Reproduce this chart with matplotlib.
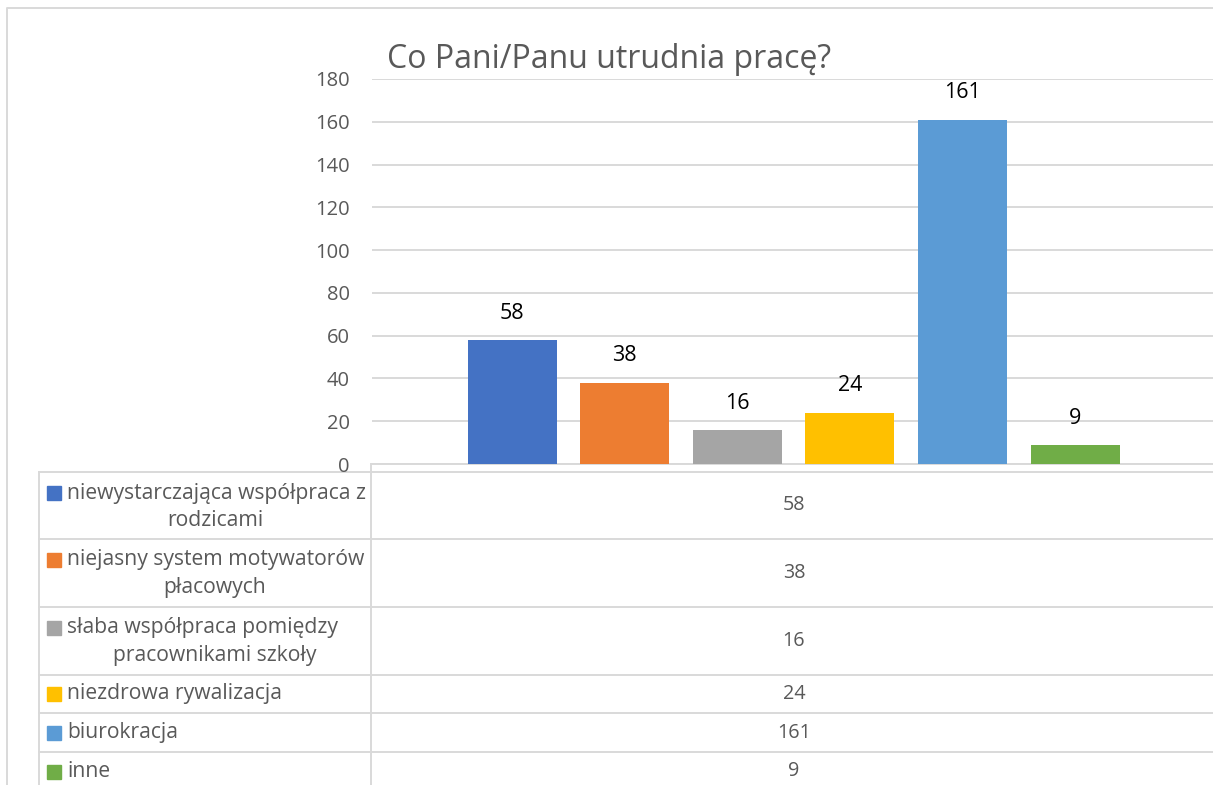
import matplotlib.pyplot as plt
from matplotlib.patches import Rectangle

# data
categories = ["niewystarczająca współpraca z\nrodzicami",
              "niejasny system motywatorów\npłacowych",
              "słaba współpraca pomiędzy\npracownikami szkoły",
              "niezdrowa rywalizacja",
              "biurokracja",
              "inne"]
values = [58, 38, 16, 24, 161, 9]
colors = ["#4472C4", "#ED7D31", "#A5A5A5", "#FFC000", "#5B9BD5", "#70AD47"]
yticks = [0, 20, 40, 60, 80, 100, 120, 140, 160, 180]
title = "Co Pani/Panu utrudnia pracę?"

W, H = 1213, 785
plt.rcParams['font.family'] = ['Open Sans', 'DejaVu Sans']
fig = plt.figure(figsize=(W / 100, H / 100), dpi=100)

def px_axes(x0, y0, x1, y1, **kw):
    # pixel box (top-left origin) -> figure fraction
    return fig.add_axes([x0 / W, 1 - y1 / H, (x1 - x0) / W, (y1 - y0) / H], **kw)

grey = "#D9D9D9"
txt = "#595959"

# bar chart area
ax = px_axes(372, 79, 1216, 464)
x = list(range(len(values)))
ax.bar(x, values, width=0.79, color=colors, zorder=3)
for xi, v in zip(x, values):
    ax.text(xi, v + 12.5, str(v), ha='center', va='center', fontsize=15.5, color='black')
ax.set_xlim(-1.243, 6.25)
ax.set_ylim(0, 180)
ax.set_yticks(yticks)
ax.yaxis.grid(True, color=grey, lw=1.4, zorder=0)
ax.tick_params(axis='y', length=0, pad=16, labelsize=14.5, labelcolor=txt)
ax.tick_params(axis='x', length=0, labelbottom=False)
for s in ['top', 'right', 'left']:
    ax.spines[s].set_visible(False)
ax.spines['bottom'].set_color(grey)
ax.spines['bottom'].set_linewidth(1.4)

# overlay for the frame, title and data table (pixel coordinates)
ov = fig.add_axes([0, 0, 1, 1], zorder=-1)
ov.set_xlim(0, W)
ov.set_ylim(H, 0)
ov.axis('off')
ov.patch.set_alpha(0)

# chart border
ov.plot([7, 7, W + 5], [H + 5, 8, 8], color=grey, lw=1.4)

ov.text(387, 59, title, fontsize=23, color=txt, ha='left', va='center')

# table
rows = [472, 539, 607, 675, 713, 752, 800]
for y in rows[:-1]:
    ov.plot([39, W + 5], [y, y], color=grey, lw=1.4)
ov.plot([39, 39], [472, H + 5], color=grey, lw=1.4)
ov.plot([371, 371], [464, H + 5], color=grey, lw=1.4)

fs = 15.2
for i, (lab, v, c) in enumerate(zip(categories, values, colors)):
    top = rows[i]
    bot = min(rows[i + 1], 791)
    lines = lab.split('\n')
    if len(lines) == 2:
        y1, y2 = top + 21, top + 49
        ov.add_patch(Rectangle((47, y1 - 7), 14, 14, color=c))
        ov.text(67, y1, lines[0], fontsize=fs, color=txt, ha='left', va='center')
        ov.text(215, y2, lines[1], fontsize=fs, color=txt, ha='center', va='center')
    else:
        yc = (top + bot) / 2
        ov.add_patch(Rectangle((47, yc - 7), 14, 14, color=c))
        ov.text(67, yc, lines[0], fontsize=fs, color=txt, ha='left', va='center')
    ov.text(794, (top + bot) / 2, str(v), fontsize=14.2, color=txt, ha='center', va='center')

fig.savefig("out.png", dpi=100)
